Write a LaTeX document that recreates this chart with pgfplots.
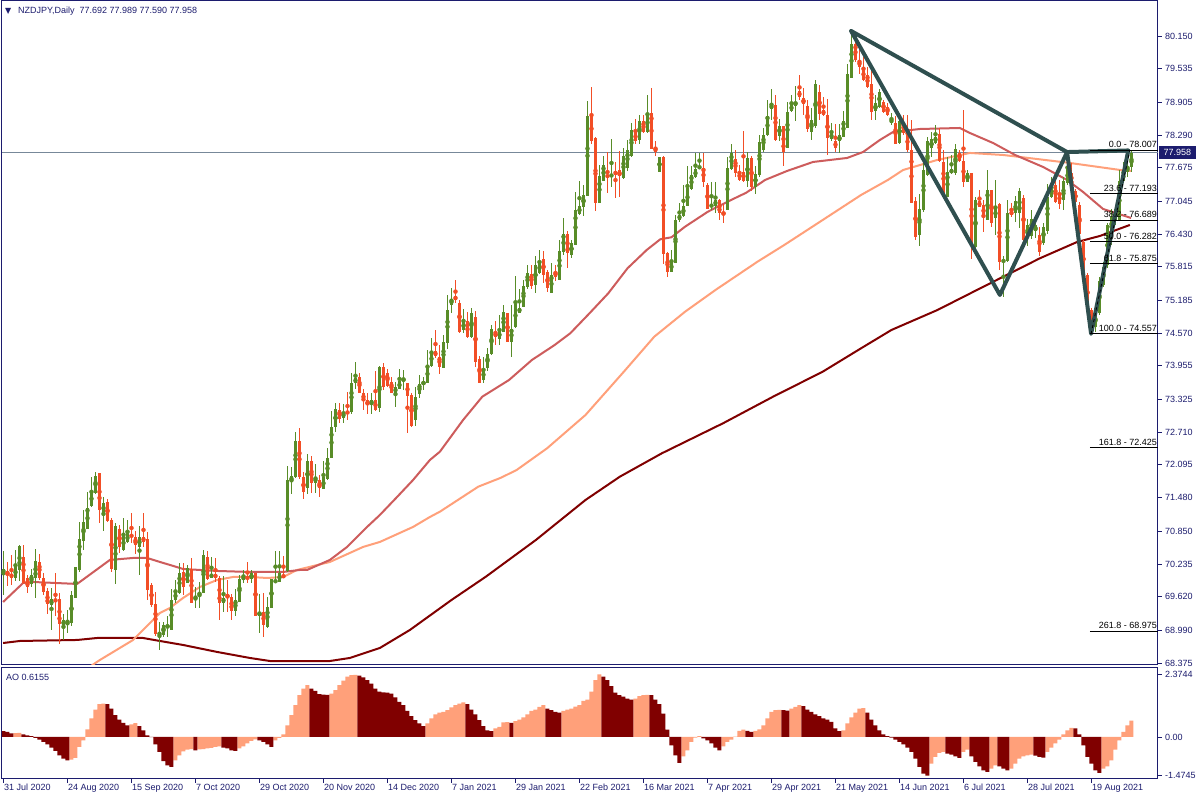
\documentclass[border=0pt]{standalone}
\usepackage{pgfplots}
\pgfplotsset{compat=1.18}
\usepackage{pgfplotstable}
\usepackage{fontspec}
\setmainfont{Liberation Sans}
\newfontfamily\dejavu{DejaVu Sans}
\definecolor{navyfg}{RGB}{28,28,110}
\definecolor{upg}{RGB}{88,140,40}
\definecolor{dnr}{RGB}{242,78,38}
\definecolor{maIR}{RGB}{205,92,92}
\definecolor{maLS}{RGB}{255,160,122}
\definecolor{maMR}{RGB}{128,0,0}
\definecolor{patt}{RGB}{47,79,79}
\definecolor{pline}{RGB}{119,136,153}

\pgfplotstableread{
i o h l c
0 70.06 70.47 69.65 70.14
1 70.10 70.28 69.82 70.02
2 70.05 70.40 69.84 69.98
3 69.98 70.50 69.92 70.18
4 70.12 70.59 69.92 70.57
5 70.36 70.59 69.86 69.87
6 69.97 70.03 69.68 69.81
7 69.85 70.15 69.80 70.03
8 69.98 70.51 69.59 70.29
9 70.27 70.43 69.93 69.98
10 69.98 70.06 69.65 69.70
11 69.73 69.78 69.30 69.48
12 69.46 69.78 69.00 69.57
13 69.56 70.06 69.25 69.54
14 69.57 69.68 68.74 69.11
15 69.08 69.30 68.81 69.18
16 69.10 69.37 68.93 69.14
17 69.13 69.73 69.07 69.65
18 69.59 70.18 69.59 70.17
19 70.13 71.03 70.09 70.70
20 70.67 71.25 70.50 71.02
21 70.90 71.59 70.89 71.29
22 71.33 71.87 71.31 71.59
23 71.57 71.96 71.55 71.89
24 71.94 71.95 71.00 71.24
25 71.19 71.49 70.86 71.38
26 71.40 71.45 71.03 71.05
27 71.06 71.09 70.09 70.15
28 70.13 71.00 69.85 70.95
29 70.90 70.97 70.45 70.55
30 70.50 71.09 70.48 70.76
31 70.64 71.06 70.62 70.81
32 70.77 71.20 70.62 70.76
33 70.75 70.86 70.43 70.60
34 70.55 70.94 70.03 70.74
35 70.74 71.20 70.55 70.65
36 70.70 70.84 69.56 69.75
37 69.84 69.87 69.43 69.46
38 69.48 69.71 68.88 68.92
39 68.90 69.15 68.62 68.95
40 68.90 69.15 68.87 69.08
41 69.05 69.25 68.87 69.08
42 68.99 69.76 68.99 69.56
43 69.55 69.93 69.51 69.72
44 69.68 70.25 69.67 70.07
45 70.08 70.25 69.65 69.81
46 69.88 70.22 69.87 70.15
47 70.15 70.34 69.50 69.51
48 69.57 69.81 69.40 69.60
49 69.67 69.90 69.40 69.68
50 69.68 70.50 69.68 70.40
51 70.37 70.47 69.93 69.95
52 69.98 70.36 69.97 70.05
53 70.05 70.34 69.90 69.97
54 69.98 70.00 69.18 69.51
55 69.51 70.00 69.34 69.59
56 69.65 69.93 69.34 69.60
57 69.62 69.68 69.18 69.36
58 69.36 69.76 69.26 69.55
59 69.53 70.03 69.52 69.95
60 69.93 70.13 69.87 70.01
61 70.00 70.28 69.87 69.95
62 69.95 70.13 69.87 70.06
63 70.07 70.07 69.25 69.26
64 69.26 69.68 68.93 69.33
65 69.33 69.68 68.87 69.09
66 69.05 69.61 69.03 69.43
67 69.41 69.95 69.41 69.95
68 69.90 70.48 69.89 69.92
69 69.90 70.48 69.90 70.07
70 70.03 70.39 69.98 69.98
71 70.11 72.07 70.09 71.82
72 71.78 72.06 71.55 71.89
73 71.86 72.71 71.84 72.54
74 72.54 72.79 71.84 71.86
75 71.86 71.97 71.45 71.59
76 71.66 72.30 71.55 72.17
77 72.17 72.26 71.57 71.76
78 71.76 72.11 71.57 71.86
79 71.81 71.91 71.50 71.66
80 71.64 72.17 71.64 71.86
81 71.84 72.41 71.82 72.22
82 72.22 73.10 72.22 72.81
83 72.81 73.25 72.71 73.14
84 73.13 73.25 72.89 72.96
85 72.98 73.24 72.89 73.08
86 73.11 73.46 72.94 73.05
87 73.09 73.83 73.06 73.64
88 73.63 74.02 73.52 73.73
89 73.74 73.83 73.44 73.45
90 73.45 73.52 73.13 73.30
91 73.31 73.45 73.05 73.22
92 73.24 73.45 73.06 73.31
93 73.31 73.85 73.11 73.13
94 73.17 73.95 73.08 73.94
95 73.94 74.00 73.51 73.56
96 73.83 73.90 73.56 73.58
97 73.66 73.74 73.44 73.45
98 73.45 73.66 73.19 73.55
99 73.52 73.90 73.52 73.67
100 73.67 73.88 73.51 73.73
101 73.64 73.64 72.70 73.39
102 73.40 73.44 72.80 72.83
103 72.93 73.56 72.83 73.38
104 73.43 73.78 73.35 73.61
105 73.60 73.75 73.51 73.67
106 73.64 74.25 73.63 73.97
107 73.95 74.47 73.94 74.23
108 74.23 74.63 74.10 74.14
109 74.12 74.35 73.80 73.94
110 73.92 74.53 73.92 74.41
111 74.38 75.29 74.27 75.00
112 75.09 75.41 74.95 75.22
113 75.27 75.57 75.13 75.19
114 75.14 75.19 74.58 74.60
115 74.62 75.02 74.58 74.80
116 74.80 74.97 74.47 74.49
117 74.50 75.04 74.47 74.95
118 74.87 74.99 73.94 74.03
119 74.08 74.14 73.63 73.64
120 73.68 74.13 73.63 73.90
121 73.92 74.29 73.86 74.18
122 74.18 74.72 74.16 74.65
123 74.59 74.80 74.35 74.49
124 74.46 74.91 74.35 74.62
125 74.59 75.10 74.59 74.96
126 74.94 74.95 74.41 74.41
127 74.41 75.10 74.12 74.65
128 74.68 75.64 74.66 75.12
129 74.95 75.39 74.94 75.05
130 75.07 75.56 75.07 75.46
131 75.44 75.85 75.39 75.69
132 75.69 75.85 75.39 75.46
133 75.47 76.01 75.32 75.85
134 75.69 76.13 75.68 75.90
135 75.96 76.12 75.52 75.66
136 75.72 75.76 75.35 75.42
137 75.33 75.88 75.33 75.66
138 75.72 75.85 75.55 75.63
139 75.56 76.31 75.56 76.11
140 76.10 76.73 76.03 76.43
141 76.43 76.48 75.79 76.08
142 76.04 76.32 75.99 76.27
143 76.23 77.23 76.23 76.88
144 76.81 77.42 76.79 76.95
145 76.93 77.35 76.77 77.16
146 77.15 78.92 77.15 78.65
147 78.65 79.20 78.13 78.17
148 78.23 78.26 76.87 77.01
149 77.01 77.73 77.01 77.52
150 77.43 77.90 77.42 77.73
151 77.54 77.98 77.21 77.50
152 77.50 78.21 77.32 77.56
153 77.62 77.79 77.10 77.54
154 77.63 77.99 77.13 77.52
155 77.48 78.04 77.46 77.90
156 77.67 78.20 77.62 78.01
157 77.90 78.51 77.88 78.39
158 78.35 78.60 78.13 78.17
159 78.19 78.67 78.13 78.55
160 78.55 78.67 78.32 78.34
161 78.34 79.04 78.32 78.71
162 78.71 79.18 78.02 78.03
163 78.05 78.17 77.90 77.98
164 77.60 77.88 77.60 77.88
165 77.88 77.90 75.87 76.06
166 76.08 76.10 75.62 75.72
167 75.72 76.13 75.71 75.91
168 75.88 76.79 75.88 76.70
169 76.70 77.01 76.66 76.79
170 76.77 77.35 76.76 76.96
171 76.95 77.71 76.95 77.29
172 77.27 77.71 77.26 77.54
173 77.50 77.95 77.48 77.65
174 77.68 77.95 77.67 77.69
175 77.68 77.95 77.32 77.40
176 77.35 77.38 76.90 76.91
177 76.93 77.40 76.88 77.00
178 76.96 77.40 76.83 77.07
179 77.07 77.08 76.70 76.83
180 76.83 77.00 76.63 76.81
181 76.88 77.88 76.88 77.67
182 77.65 78.12 77.63 77.95
183 77.84 78.01 77.51 77.58
184 77.60 77.73 77.43 77.45
185 77.60 78.37 77.41 77.43
186 77.43 77.98 77.32 77.85
187 77.85 77.90 77.23 77.32
188 77.32 77.70 77.18 77.56
189 77.53 78.29 77.51 78.15
190 78.01 78.42 77.98 78.29
191 78.29 78.95 78.27 78.65
192 78.77 79.15 78.57 78.87
193 78.85 79.04 78.18 78.20
194 78.27 78.59 78.17 78.46
195 78.45 78.46 77.70 77.98
196 78.05 78.92 78.04 78.73
197 78.75 79.04 78.73 78.85
198 78.84 79.21 78.56 78.92
199 79.12 79.42 78.95 79.00
200 78.99 79.17 78.67 78.87
201 78.84 78.95 78.35 78.40
202 78.35 78.79 78.20 78.57
203 78.45 79.32 78.43 79.25
204 79.09 79.23 78.57 78.69
205 78.76 79.01 78.64 78.67
206 78.67 78.96 77.92 78.23
207 78.22 78.51 78.18 78.32
208 78.17 78.50 77.98 78.05
209 78.17 78.50 77.95 78.29
210 78.26 78.74 78.26 78.56
211 78.43 79.62 78.43 79.44
212 79.37 80.24 79.37 80.00
213 80.00 80.20 79.67 79.69
214 79.69 79.89 79.44 79.57
215 79.54 79.76 79.31 79.32
216 79.42 79.57 79.17 79.20
217 79.25 79.54 78.57 78.73
218 78.75 79.04 78.57 78.89
219 78.82 79.15 78.80 79.10
220 78.92 78.95 78.70 78.73
221 78.82 78.90 78.64 78.67
222 78.51 78.70 78.48 78.60
223 78.52 78.64 78.12 78.13
224 78.15 78.60 78.13 78.56
225 78.54 78.67 78.29 78.32
226 78.32 78.67 77.98 78.01
227 78.01 78.57 77.01 77.02
228 77.06 77.13 76.32 76.37
229 76.41 77.18 76.21 76.90
230 76.88 77.82 76.85 77.63
231 77.54 78.26 77.52 78.17
232 78.04 78.35 77.88 78.21
233 78.15 78.48 78.13 78.26
234 78.30 78.42 77.79 77.81
235 77.79 78.01 77.12 77.15
236 77.13 77.87 77.12 77.60
237 77.57 77.92 77.56 77.65
238 77.58 78.13 77.54 78.02
239 77.95 78.01 77.79 77.81
240 77.80 78.76 77.31 77.41
241 77.41 77.63 77.40 77.57
242 77.57 77.58 75.96 76.22
243 76.18 77.13 76.16 77.07
244 77.05 77.26 76.93 76.94
245 76.98 77.07 76.47 76.76
246 76.69 77.63 76.69 77.25
247 77.25 77.26 76.57 76.63
248 76.73 77.45 76.41 76.91
249 77.00 77.01 75.76 75.91
250 75.91 76.01 75.25 75.94
251 75.92 77.07 75.91 76.82
252 76.86 77.01 76.76 76.79
253 76.82 77.14 76.66 77.06
254 76.82 77.29 76.54 77.23
255 77.10 77.16 76.23 76.32
256 76.39 76.71 76.21 76.60
257 76.39 76.88 76.33 76.71
258 76.48 76.70 76.35 76.60
259 76.41 76.57 76.01 76.10
260 76.26 76.63 76.23 76.57
261 76.48 77.38 76.44 77.13
262 77.13 77.51 77.10 77.33
263 77.35 77.45 77.02 77.04
264 77.20 77.45 76.91 77.00
265 77.07 77.51 76.88 77.42
266 77.38 78.007 77.35 77.68
267 77.58 77.76 77.21 77.23
268 77.24 77.27 77.01 77.04
269 76.98 77.04 76.32 76.44
270 76.29 76.32 75.60 75.63
271 75.66 75.69 74.97 75.01
272 75.01 75.04 74.557 74.66
273 74.69 75.01 74.60 74.97
274 74.94 75.63 74.91 75.54
275 75.47 75.91 75.44 75.82
276 75.85 76.63 75.80 76.60
277 76.48 76.91 76.23 76.76
278 76.70 76.98 76.60 76.90
279 76.70 77.63 76.70 77.42
280 77.42 77.79 77.38 77.60
281 77.60 77.85 77.50 77.69
282 77.692 77.989 77.590 77.958
}\candles

\pgfplotstableread{
i ao up
0 0.22 0
1 0.19 0
2 0.13 0
3 0.14 1
4 0.15 1
5 0.10 0
6 0.06 0
7 0.03 0
8 -0.04 0
9 -0.10 0
10 -0.19 0
11 -0.28 0
12 -0.41 0
13 -0.53 0
14 -0.70 0
15 -0.83 0
16 -0.89 0
17 -0.86 1
18 -0.80 1
19 -0.38 1
20 -0.13 1
21 0.29 1
22 0.70 1
23 1.04 1
24 1.25 1
25 1.27 1
26 1.25 0
27 1.08 0
28 0.83 0
29 0.66 0
30 0.53 0
31 0.44 0
32 0.48 1
33 0.52 1
34 0.41 0
35 0.25 0
36 0.06 0
37 -0.01 0
38 -0.28 0
39 -0.57 0
40 -0.92 0
41 -1.08 0
42 -1.14 0
43 -0.89 1
44 -0.70 1
45 -0.55 1
46 -0.48 1
47 -0.46 1
48 -0.51 0
49 -0.47 1
50 -0.46 1
51 -0.44 1
52 -0.42 1
53 -0.38 1
54 -0.36 1
55 -0.41 0
56 -0.44 0
57 -0.51 0
58 -0.53 0
59 -0.44 1
60 -0.36 1
61 -0.25 1
62 -0.15 1
63 -0.09 1
64 -0.13 0
65 -0.19 0
66 -0.28 0
67 -0.38 0
68 -0.13 1
69 -0.04 1
70 0.10 1
71 0.44 1
72 0.83 1
73 1.21 1
74 1.59 1
75 1.84 1
76 1.97 1
77 1.84 0
78 1.75 0
79 1.63 0
80 1.61 0
81 1.60 0
82 1.65 1
83 1.78 1
84 1.97 1
85 2.14 1
86 2.29 1
87 2.35 1
88 2.36 1
89 2.33 0
90 2.26 0
91 2.16 0
92 2.03 0
93 1.84 0
94 1.72 0
95 1.69 0
96 1.68 0
97 1.65 0
98 1.50 0
99 1.33 0
100 1.21 0
101 0.99 0
102 0.79 0
103 0.64 0
104 0.51 0
105 0.41 0
106 0.51 1
107 0.70 1
108 0.86 1
109 0.92 1
110 0.95 1
111 1.02 1
112 1.12 1
113 1.21 1
114 1.27 1
115 1.31 1
116 1.25 0
117 1.04 0
118 0.86 0
119 0.64 0
120 0.41 0
121 0.25 0
122 0.22 0
123 0.32 1
124 0.38 1
125 0.55 1
126 0.56 1
127 0.53 0
128 0.60 1
129 0.66 1
130 0.74 1
131 0.86 1
132 0.99 1
133 1.04 1
134 1.14 1
135 1.21 1
136 1.08 0
137 1.02 0
138 0.95 0
139 0.92 0
140 0.99 1
141 1.04 1
142 1.08 1
143 1.15 1
144 1.21 1
145 1.37 1
146 1.42 1
147 1.72 1
148 2.16 1
149 2.3744 1
150 2.29 0
151 2.16 0
152 1.93 0
153 1.68 0
154 1.59 0
155 1.53 0
156 1.46 0
157 1.42 0
158 1.46 1
159 1.55 1
160 1.59 1
161 1.60 1
162 1.59 0
163 1.42 0
164 1.25 0
165 0.89 0
166 0.28 0
167 -0.32 0
168 -0.70 0
169 -0.99 0
170 -0.74 1
171 -0.51 1
172 -0.19 1
173 -0.03 1
174 0.03 1
175 -0.06 0
176 -0.13 0
177 -0.25 0
178 -0.41 0
179 -0.51 0
180 -0.36 1
181 -0.19 1
182 -0.10 1
183 0.01 1
184 0.23 1
185 0.28 1
186 0.23 0
187 0.19 0
188 0.23 1
189 0.29 1
190 0.44 1
191 0.70 1
192 0.95 1
193 1.02 1
194 1.03 1
195 1.02 0
196 1.00 0
197 1.08 1
198 1.14 1
199 1.21 1
200 1.17 0
201 1.04 0
202 0.95 0
203 0.86 0
204 0.79 0
205 0.70 0
206 0.66 0
207 0.57 0
208 0.32 0
209 0.22 0
210 0.25 1
211 0.51 1
212 0.74 1
213 0.92 1
214 1.08 1
215 1.09 1
216 0.92 0
217 0.66 0
218 0.44 0
219 0.25 0
220 0.10 0
221 0.03 0
222 -0.03 0
223 -0.10 0
224 -0.19 0
225 -0.28 0
226 -0.41 0
227 -0.57 0
228 -0.83 0
229 -1.14 0
230 -1.40 0
231 -1.4745 0
232 -1.02 1
233 -0.76 1
234 -0.61 1
235 -0.57 1
236 -0.64 0
237 -0.67 0
238 -0.74 0
239 -0.80 0
240 -0.57 1
241 -0.48 1
242 -0.74 0
243 -0.95 0
244 -1.12 0
245 -1.27 0
246 -1.33 0
247 -1.21 1
248 -1.08 1
249 -1.12 0
250 -1.21 0
251 -1.27 0
252 -1.21 1
253 -1.02 1
254 -0.83 1
255 -0.74 1
256 -0.70 1
257 -0.67 1
258 -0.71 0
259 -0.76 0
260 -0.79 0
261 -0.57 1
262 -0.41 1
263 -0.25 1
264 -0.10 1
265 0.10 1
266 0.25 1
267 0.34 1
268 0.32 0
269 0.10 0
270 -0.32 0
271 -0.76 0
272 -1.02 0
273 -1.27 0
274 -1.37 0
275 -1.21 1
276 -1.12 1
277 -0.89 1
278 -0.48 1
279 -0.13 1
280 0.19 1
281 0.44 1
282 0.6155 1
}\aodata

\tikzset{mtfont/.style={font=\fontsize{9}{10}\selectfont}}
\pgfplotsset{
  wick/.style={only marks, mark=none, forget plot,
    error bars/.cd, y dir=both, y explicit, error mark=none},
}

\begin{document}
\fontsize{9}{10}\selectfont
\begin{tikzpicture}
\useasboundingbox (0pt,0pt) rectangle (1200pt,800pt);
\fill[white] (0pt,0pt) rectangle (1200pt,800pt);

% ---------------- main price panel ----------------
\begin{axis}[
  at={(2pt,135pt)}, anchor=south west, scale only axis,
  width=1156pt, height=664pt,
  xmin=-0.375, xmax=288.625, ymin=68.337, ymax=80.807,
  axis line style={navyfg, line width=1pt},
  clip mode=individual,
  xtick=\empty,
  ytick={68.375,68.990,69.620,70.235,70.850,71.480,72.095,72.710,73.325,73.955,74.570,75.185,75.815,76.430,77.045,77.675,78.290,78.905,79.535,80.150},
  yticklabels={68.375,68.990,69.620,70.235,70.850,71.480,72.095,72.710,73.325,73.955,74.570,75.185,75.815,76.430,77.045,77.675,78.290,78.905,79.535,80.150},
  ytick pos=right, yticklabel pos=right,
  tick align=outside, major tick length=4pt,
  tick style={navyfg, line width=0.8pt},
  yticklabel style={mtfont, text=navyfg, inner sep=0pt, anchor=west, xshift=3pt},
]
% current price line
\addplot[pline, line width=1pt, forget plot] coordinates {(-0.375,77.958) (288.625,77.958)};

% moving averages
\addplot[maMR, line width=2pt, forget plot] coordinates {
(-0.1,68.750) (4.1,68.788) (18.4,68.807) (23.4,68.844) (34.9,68.844) (39.1,68.788)
(44.9,68.713) (53.4,68.582) (61.6,68.469) (66.6,68.412) (74.1,68.412) (81.6,68.412)
(86.6,68.469) (94.1,68.657) (101.6,68.995) (112.0,69.558) (120.6,69.996) (133.1,70.685)
(145.5,71.436) (154.1,71.874) (164.6,72.313) (179.9,72.877) (192.4,73.376) (204.8,73.845)
(214.4,74.285) (222.0,74.629) (233.5,75.004) (245.0,75.442) (259.1,75.975) (268.4,76.281)
(274.1,76.394) (281.6,76.601)};
\addplot[maLS, line width=2pt, forget plot] coordinates {
(20.4,68.244) (24.1,68.431) (32.4,68.807) (39.1,69.314) (41.6,69.408) (44.9,69.596)
(49.1,69.802) (53.4,69.934) (57.4,69.990) (61.6,69.990) (65.9,69.971) (69.9,69.990)
(73.4,70.122) (81.6,70.272) (89.9,70.554) (94.1,70.648) (102.4,70.930) (106.6,71.117)
(109.1,71.216) (118.7,71.686) (124.4,71.855) (128.3,72.000) (135.9,72.407) (145.5,73.032)
(155.1,73.846) (162.7,74.503) (170.4,74.972) (178.0,75.380) (188.5,75.911) (195.2,76.225)
(204.8,76.694) (214.4,77.164) (221.1,77.446) (224.9,77.633) (233.4,77.821) (241.6,77.953)
(249.9,77.915) (254.1,77.878) (266.6,77.765) (279.1,77.634) (281.9,77.615)};
\addplot[maIR, line width=2pt, forget plot] coordinates {
(-0.1,69.520) (4.9,69.877) (7.4,69.896) (18.4,69.859) (26.6,70.310) (32.4,70.347)
(35.9,70.347) (39.1,70.272) (41.6,70.216) (44.9,70.140) (53.4,70.103) (61.6,70.084)
(69.9,70.084) (74.1,70.122) (75.9,70.122) (81.6,70.310) (85.9,70.554) (90.9,70.930)
(94.1,71.155) (98.4,71.493) (102.4,71.812) (106.6,72.187) (109.1,72.343) (114.9,72.938)
(119.7,73.376) (126.4,73.690) (132.1,74.065) (137.8,74.347) (141.7,74.567) (146.5,74.942)
(151.2,75.318) (156.0,75.787) (160.8,76.131) (164.2,76.332) (167.0,76.370) (170.4,76.569)
(176.1,76.850) (181.9,77.070) (185.7,77.207) (190.4,77.446) (195.9,77.615) (202.4,77.784)
(210.9,77.859) (214.9,77.971) (219.1,78.197) (222.4,78.347) (229.1,78.403) (239.1,78.422)
(241.6,78.328) (247.4,78.140) (252.9,77.915) (259.9,77.690) (265.9,77.446) (269.9,77.220)
(274.9,76.901) (281.9,76.732)};

% candles: wicks
\addplot[upg, wick, error bar style={upg, line width=1pt}]
  table[x=i, y expr={(\thisrow{c}>=\thisrow{o}) ? (\thisrow{h}+\thisrow{l})/2 : nan},
        y error expr={(\thisrow{h}-\thisrow{l})/2}] {\candles};
\addplot[dnr, wick, error bar style={dnr, line width=1pt}]
  table[x=i, y expr={(\thisrow{c}<\thisrow{o}) ? (\thisrow{h}+\thisrow{l})/2 : nan},
        y error expr={(\thisrow{h}-\thisrow{l})/2}] {\candles};
% candles: bodies
\addplot[upg, wick, error bar style={upg, line width=3pt}]
  table[x=i, y expr={(\thisrow{c}>=\thisrow{o}) ? (\thisrow{o}+\thisrow{c})/2 : nan},
        y error expr={max(abs(\thisrow{c}-\thisrow{o})/2,0.009)}] {\candles};
\addplot[dnr, wick, error bar style={dnr, line width=3pt}]
  table[x=i, y expr={(\thisrow{c}<\thisrow{o}) ? (\thisrow{o}+\thisrow{c})/2 : nan},
        y error expr={max(abs(\thisrow{c}-\thisrow{o})/2,0.009)}] {\candles};

% harmonic pattern X-A-B-C-D
\addplot[patt, line width=4pt, line join=round, line cap=round, forget plot] coordinates {
(211.9,80.244) (249.1,75.286) (265.9,77.970) (271.9,74.557) (281.2,78.000) (265.9,77.970) (211.9,80.244)};

% Fibonacci retracement
\addplot[black, dashed, line width=0.8pt, forget plot] coordinates {(271.9,74.557) (281.6,78.007)};
\foreach \lv/\tx in {78.007/0.0 - 78.007, 77.193/23.6 - 77.193, 76.689/38.2 - 76.689,
   76.282/50.0 - 76.282, 75.875/61.8 - 75.875, 74.557/100.0 - 74.557,
   72.425/161.8 - 72.425, 68.975/261.8 - 68.975}{
  \edef\temp{\noexpand\addplot[black, line width=1pt, forget plot] coordinates {(271.6,\lv) (288.625,\lv)};}
  \temp
  \edef\temp{\noexpand\node[anchor=south east, inner sep=0pt, yshift=2pt, mtfont] at (axis cs:288.4,\lv) {\tx};}
  \temp
}
\coordinate (cp) at (axis cs:288.625,77.958);
\end{axis}

% ---------------- AO panel ----------------
\begin{axis}[
  at={(2pt,21pt)}, anchor=south west, scale only axis,
  width=1156pt, height=111pt,
  xmin=-0.375, xmax=288.625, ymin=-1.60, ymax=2.62,
  axis line style={navyfg, line width=1pt},
  xtick={0,16,32,48,64,80,96,112,128,144,160,176,192,208,224,240,256,272},
  xticklabels={31 Jul 2020,24 Aug 2020,15 Sep 2020,7 Oct 2020,29 Oct 2020,20 Nov 2020,14 Dec 2020,7 Jan 2021,29 Jan 2021,22 Feb 2021,16 Mar 2021,7 Apr 2021,29 Apr 2021,21 May 2021,14 Jun 2021,6 Jul 2021,28 Jul 2021,19 Aug 2021},
  xtick pos=bottom, xticklabel pos=bottom,
  xticklabel style={mtfont, text=navyfg, anchor=north west, inner sep=0pt, xshift=0.5pt, yshift=-1pt},
  ytick={-1.4745,0,2.3744}, yticklabels={-1.4745,0.00,2.3744},
  ytick pos=right, yticklabel pos=right,
  yticklabel style={mtfont, text=navyfg, inner sep=0pt, anchor=west, xshift=3pt},
  tick align=outside, major tick length=4pt,
  tick style={navyfg, line width=0.8pt},
]
\addplot[ybar, bar width=4pt, bar shift=0pt, fill=maLS, draw=none, forget plot]
  table[x=i, y expr={(\thisrow{up}>0.5) ? \thisrow{ao} : nan}] {\aodata};
\addplot[ybar, bar width=4pt, bar shift=0pt, fill=maMR, draw=none, forget plot]
  table[x=i, y expr={(\thisrow{up}<0.5) ? \thisrow{ao} : nan}] {\aodata};
\end{axis}

% texts
\node[anchor=west, text=navyfg, inner sep=0pt] at (5pt,789pt) {\dejavu\fontsize{8}{9}\selectfont ▼};
\node[anchor=west, text=navyfg, inner sep=0pt] at (18pt,788.5pt) {NZDJPY,Daily\ \ 77.692 77.989 77.590 77.958};
\node[anchor=west, text=navyfg, inner sep=0pt] at (6pt,123pt) {AO 0.6155};
\node[anchor=west, fill=navyfg, text=white, inner xsep=5pt, inner ysep=0pt, minimum height=13pt] at ([xshift=0.5pt]cp) {77.958};
\end{tikzpicture}
\end{document}
